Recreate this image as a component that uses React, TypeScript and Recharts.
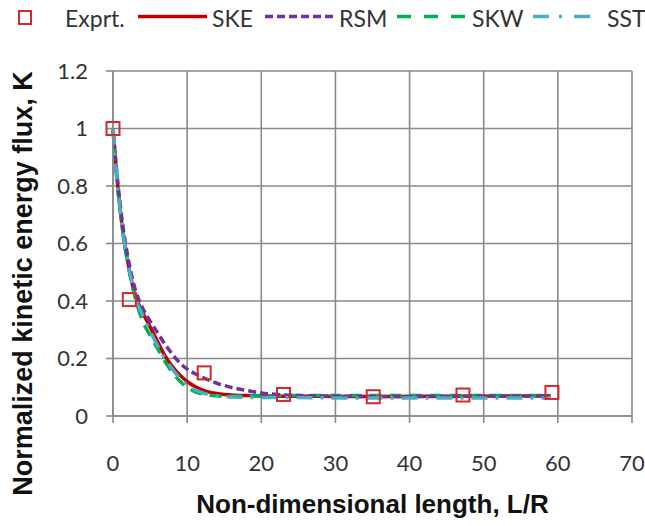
import React from 'react';
import { ComposedChart, Line, Scatter, XAxis, YAxis, CartesianGrid } from 'recharts';

// ---- data ----
const expX = [0, 2.2, 12.3, 23, 35.1, 47.2, 59.2];
const expK = [1.0, 0.405, 0.15, 0.075, 0.067, 0.073, 0.082];

const curveX = [0, 0.5, 1, 1.5, 2, 2.5, 3, 4, 5, 6, 7, 8, 9, 10, 11, 12, 13, 14, 15, 16, 18, 20, 22, 25, 30, 35, 40, 45, 50, 55, 59];
const skeK = [1, 0.84, 0.71, 0.61, 0.535, 0.47, 0.42, 0.36, 0.31, 0.26, 0.21, 0.172, 0.143, 0.12, 0.103, 0.091, 0.083, 0.078, 0.075, 0.073, 0.071, 0.07, 0.069, 0.069, 0.068, 0.068, 0.068, 0.069, 0.069, 0.07, 0.07];
const rsmK = [1, 0.85, 0.73, 0.63, 0.555, 0.49, 0.44, 0.375, 0.33, 0.29, 0.25, 0.215, 0.185, 0.163, 0.148, 0.135, 0.124, 0.114, 0.106, 0.099, 0.089, 0.08, 0.075, 0.071, 0.069, 0.068, 0.068, 0.068, 0.069, 0.069, 0.07];
const skwK = [1, 0.83, 0.71, 0.61, 0.53, 0.465, 0.41, 0.33, 0.28, 0.235, 0.19, 0.152, 0.122, 0.1, 0.085, 0.077, 0.072, 0.07, 0.069, 0.069, 0.07, 0.07, 0.071, 0.071, 0.071, 0.071, 0.071, 0.071, 0.071, 0.071, 0.071];
const sstK = [1, 0.83, 0.71, 0.61, 0.535, 0.47, 0.415, 0.35, 0.295, 0.245, 0.2, 0.163, 0.132, 0.108, 0.092, 0.081, 0.074, 0.07, 0.067, 0.066, 0.065, 0.064, 0.064, 0.064, 0.063, 0.063, 0.063, 0.063, 0.063, 0.063, 0.063];

const xTicks = [0, 10, 20, 30, 40, 50, 60, 70];
const yTicks = [0, 0.2, 0.4, 0.6, 0.8, 1, 1.2];

const legendNames = ['Exprt.', 'SKE', 'RSM', 'SKW', 'SST'];

// ---- build ----
const build = (ys: number[]) => curveX.map((x, i) => ({ x, k: ys[i] }));
const skeData = build(skeK);
const rsmData = build(rsmK);
const skwData = build(skwK);
const sstData = build(sstK);
const expData = expX.map((x, i) => ({ x, k: expK[i] }));

const C_EXP = '#D02A2A';
const C_SKE = '#C00000';
const C_RSM = '#7030A0';
const C_SKW = '#00B050';
const C_SST = '#4BACC6';
const GRID = '#8A8A8A';
const TICKFONT = 'Lato, "Open Sans", sans-serif';
const TITLEFONT = '"Liberation Sans", Arial, sans-serif';

const SquareShape = (props: any) => {
  const { cx, cy } = props;
  if (cx == null || cy == null) return null;
  return <rect x={cx - 6.5} y={cy - 6.5} width={13} height={13} fill="none" stroke={C_EXP} strokeWidth={2} />;
};

const Legend = () => (
  <svg width={645} height={40} style={{ position: 'absolute', left: 0, top: 0 }}>
    <g fontFamily={TICKFONT} fontSize={23} fill="#333">
      <rect x={19} y={11} width={12} height={13} fill="none" stroke={C_EXP} strokeWidth={2} />
      <text x={65} y={27}>{legendNames[0]}</text>
      <line x1={138} y1={16.5} x2={207} y2={16.5} stroke={C_SKE} strokeWidth={3.5} />
      <text x={212} y={27}>{legendNames[1]}</text>
      <line x1={265} y1={16.5} x2={333} y2={16.5} stroke={C_RSM} strokeWidth={3.5} strokeDasharray="8 4" />
      <text x={339} y={27}>{legendNames[2]}</text>
      <line x1={397} y1={16.5} x2={468} y2={16.5} stroke={C_SKW} strokeWidth={3.5} strokeDasharray="14 13" />
      <text x={472} y={27}>{legendNames[3]}</text>
      <line x1={533} y1={16.5} x2={592} y2={16.5} stroke={C_SST} strokeWidth={3.5} strokeDasharray="16 10 3 12" />
      <text x={607} y={27}>{legendNames[4]}</text>
    </g>
  </svg>
);

const XTitle = (props: any) => {
  const vb = props.viewBox || {};
  return (
    <text x={vb.x + vb.width / 2} y={vb.y + 97} textAnchor="middle" fontFamily={TITLEFONT} fontWeight="bold" fontSize={26} fill="#111">
      Non-dimensional length, L/R
    </text>
  );
};

const YTitle = (props: any) => {
  const vb = props.viewBox || {};
  const cx = 32;
  const cy = vb.y + vb.height / 2 + 40;
  return (
    <text x={cx} y={cy} transform={`rotate(-90 ${cx} ${cy})`} textAnchor="middle" fontFamily={TITLEFONT} fontWeight="bold" fontSize={27} fill="#111">
      Normalized kinetic energy flux, K
    </text>
  );
};

export default function App() {
  return (
    <div style={{ position: 'absolute', left: 0, top: 0, width: 645, height: 526, background: '#fff' }}>
      <ComposedChart width={645} height={526} margin={{ top: 71, right: 13, bottom: 0, left: 0 }}>
        <CartesianGrid stroke={GRID} strokeWidth={1.6} />
        <XAxis
          type="number"
          dataKey="x"
          domain={[0, 70]}
          ticks={xTicks}
          height={110}
          tickSize={7}
          tickMargin={32}
          axisLine={{ stroke: GRID, strokeWidth: 1.6 }}
          tickLine={{ stroke: GRID, strokeWidth: 1.6 }}
          tick={{ fill: '#333', fontSize: 22, fontFamily: TICKFONT }}
          label={{ content: XTitle }}
        />
        <YAxis
          type="number"
          dataKey="k"
          domain={[0, 1.2]}
          ticks={yTicks}
          width={113}
          tickSize={7}
          tickMargin={18}
          axisLine={{ stroke: GRID, strokeWidth: 1.6 }}
          tickLine={{ stroke: GRID, strokeWidth: 1.6 }}
          tick={{ fill: '#333', fontSize: 22, fontFamily: TICKFONT }}
          label={{ content: YTitle }}
        />
        <Line data={skeData} dataKey="k" type="monotone" stroke={C_SKE} strokeWidth={3.5} dot={false} isAnimationActive={false} />
        <Line data={skwData} dataKey="k" type="monotone" stroke={C_SKW} strokeWidth={3.5} strokeDasharray="12 8" dot={false} isAnimationActive={false} />
        <Line data={rsmData} dataKey="k" type="monotone" stroke={C_RSM} strokeWidth={3.5} strokeDasharray="8 4" dot={false} isAnimationActive={false} />
        <Line data={sstData} dataKey="k" type="monotone" stroke={C_SST} strokeWidth={3.5} strokeDasharray="16 8 3 8" dot={false} isAnimationActive={false} />
        <Scatter data={expData} dataKey="k" shape={SquareShape} isAnimationActive={false} />
      </ComposedChart>
      <Legend />
    </div>
  );
}
